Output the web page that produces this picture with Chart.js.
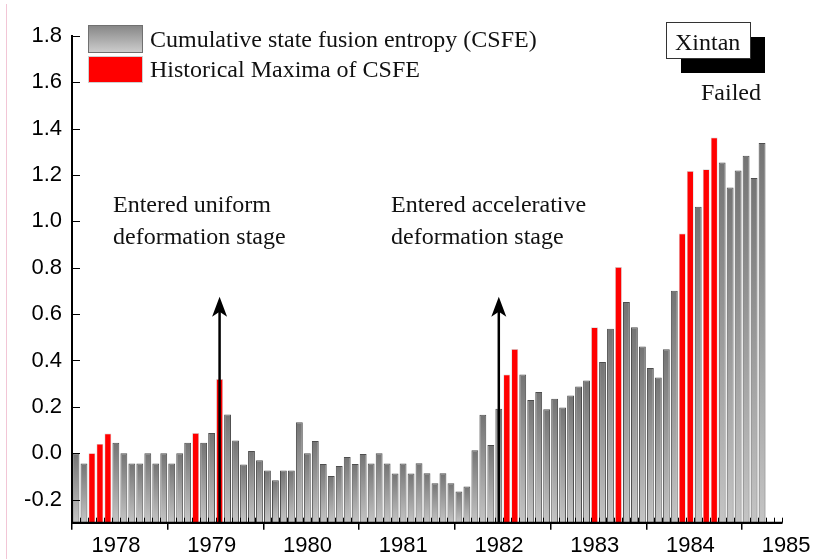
<!DOCTYPE html>
<html>
<head>
<meta charset="utf-8">
<title>CSFE - Xintan</title>
<script src="https://cdn.jsdelivr.net/npm/chart.js@4.4.0/dist/chart.umd.min.js"></script>
<style>
  body { margin: 0; background: #fff; }
  #wrap { position: relative; width: 813px; height: 559px; }
  #edge { position: absolute; left: 6px; top: 4px; bottom: 0; width: 1px; background: #f2c6d6; }
</style>
</head>
<body>
<div id="wrap">
  <canvas id="chart" width="813" height="559"></canvas>
  <div id="edge"></div>
</div>
<script>
// Monthly CSFE, Jan 1978 -> Mar 1985
const csfe = [
  0.0, -0.045, 0.0, 0.04, 0.085, 0.045, 0.0, -0.045, -0.045, 0.0, -0.045, 0.0,
  -0.045, 0.0, 0.045, 0.087, 0.045, 0.087, 0.32, 0.167, 0.055, -0.049, 0.009, -0.031,
  -0.075, -0.117, -0.075, -0.075, 0.133, 0.0, 0.053, -0.047, -0.099, -0.055, -0.016, -0.047,
  -0.004, -0.045, 0.0, -0.045, -0.088, -0.045, -0.088, -0.044, -0.087, -0.13, -0.087, -0.13,
  -0.165, -0.144, 0.013, 0.166, 0.035, 0.192, 0.339, 0.449, 0.339, 0.229, 0.264, 0.189,
  0.235, 0.197, 0.249, 0.288, 0.314, 0.543, 0.393, 0.537, 0.803, 0.652, 0.543, 0.46,
  0.367, 0.327, 0.448, 0.701, 0.948, 1.217, 1.063, 1.225, 1.362, 1.254, 1.146, 1.22,
  1.283, 1.187, 1.338
];
// months where CSFE reaches a new historical maximum
const maximaIdx = [2, 3, 4, 15, 18, 54, 55, 65, 68, 76, 77, 79, 80];
const yearLabels = ['1978', '1979', '1980', '1981', '1982', '1983', '1984', '1985'];
const yTicks = [-0.2, 0, 0.2, 0.4, 0.6, 0.8, 1.0, 1.2, 1.4, 1.6, 1.8];
const yMin = -0.3;
const yMax = 1.8;
const monthsOnAxis = 89;
// stage arrows (month index) and their notes
const arrowIdx = [18, 53];
const arrowTop = 0.675;
const stageNotes = [
  ['Entered uniform', 'deformation stage'],
  ['Entered accelerative', 'deformation stage']
];
const seriesNames = ['Cumulative state fusion entropy (CSFE)', 'Historical Maxima of CSFE'];

const serif = '24px "Liberation Serif", "Times New Roman", serif';
const monthCenters = csfe.map((_, i) => i + 0.5);
const grayData = csfe.map((v, i) => maximaIdx.includes(i) ? null : v);
const redData = csfe.map((v, i) => maximaIdx.includes(i) ? v : null);

// gradient per bar: dark at the top, light at the bottom
function barGradient(c) {
  const chart = c.chart;
  const area = chart.chartArea;
  if (!area || !c.parsed || c.parsed.y == null) return '#999';
  const top = chart.scales.y.getPixelForValue(c.parsed.y);
  const g = chart.ctx.createLinearGradient(0, top, 0, area.bottom);
  g.addColorStop(0, '#747474');
  g.addColorStop(1, '#c4c4c4');
  return g;
}

const decorations = {
  id: 'decorations',
  afterDatasetsDraw(chart) {
    const { ctx, chartArea: a, scales: { x, y } } = chart;
    const line = (x1, y1, x2, y2) => { ctx.beginPath(); ctx.moveTo(x1, y1); ctx.lineTo(x2, y2); ctx.stroke(); };
    ctx.save();
    ctx.strokeStyle = '#000';
    ctx.fillStyle = '#000';

    // minor month ticks (inside)
    ctx.lineWidth = 1;
    for (let m = 1; m <= monthsOnAxis; m++) {
      if (m % 12 === 0) continue;
      const px = Math.round(x.getPixelForValue(m)) + 0.5;
      line(px, a.bottom, px, a.bottom - 5);
    }
    // y ticks (inside)
    yTicks.forEach(v => {
      const py = Math.round(y.getPixelForValue(v)) + 0.5;
      line(a.left, py, a.left + 8, py);
    });
    // axis lines
    ctx.lineWidth = 2;
    line(a.left, a.top, a.left, a.bottom + 1);
    line(a.left - 1, a.bottom, a.right, a.bottom);

    // arrows
    ctx.lineWidth = 2.5;
    arrowIdx.forEach(i => {
      const px = x.getPixelForValue(i + 0.5);
      const top = y.getPixelForValue(arrowTop);
      line(px, a.bottom, px, top + 12);
      ctx.beginPath();
      ctx.moveTo(px, top);
      ctx.lineTo(px - 7.5, top + 20);
      ctx.lineTo(px, top + 15);
      ctx.lineTo(px + 7.5, top + 20);
      ctx.closePath();
      ctx.fill();
    });

    // notes
    ctx.font = serif;
    ctx.fillStyle = '#111';
    ctx.textBaseline = 'alphabetic';
    ctx.textAlign = 'left';
    const noteX = [113, 391];
    stageNotes.forEach((lines, k) => {
      lines.forEach((t, j) => ctx.fillText(t, noteX[k], 212 + j * 32));
    });

    // legend
    const g = ctx.createLinearGradient(0, 25, 0, 52);
    g.addColorStop(0, '#858585');
    g.addColorStop(1, '#cccccc');
    ctx.fillStyle = g;
    ctx.fillRect(88, 25, 54, 27);
    ctx.strokeStyle = '#707070';
    ctx.lineWidth = 1;
    ctx.strokeRect(88.5, 25.5, 54, 27);
    ctx.fillStyle = '#ff0000';
    ctx.fillRect(88, 56, 54, 26);
    ctx.strokeStyle = '#d0d0d0';
    ctx.strokeRect(88.5, 56.5, 54, 26);
    ctx.fillStyle = '#111';
    ctx.fillText(seriesNames[0], 150, 47);
    ctx.fillText(seriesNames[1], 150, 77);

    // Xintan label
    ctx.fillStyle = '#000';
    ctx.fillRect(681, 37, 84, 36);
    ctx.fillStyle = '#fff';
    ctx.fillRect(666, 22, 84, 36);
    ctx.strokeStyle = '#333';
    ctx.strokeRect(666.5, 22.5, 84, 36);
    ctx.fillStyle = '#111';
    ctx.fillText('Xintan', 675, 50);
    ctx.fillText('Failed', 701, 100);
    ctx.restore();
  }
};

const ctx = document.getElementById('chart').getContext('2d');
new Chart(ctx, {
  type: 'bar',
  data: {
    labels: monthCenters,
    datasets: [
      {
        label: seriesNames[0],
        data: grayData,
        backgroundColor: barGradient,
        borderColor: '#4e4e4e',
        borderWidth: 1,
        base: yMin,
        grouped: false,
        categoryPercentage: 1,
        barPercentage: 0.86
      },
      {
        label: seriesNames[1],
        data: redData,
        backgroundColor: '#ff0000',
        borderColor: 'rgba(190,190,190,0.7)',
        borderWidth: 0.7,
        base: yMin,
        grouped: false,
        categoryPercentage: 1,
        barPercentage: 0.86
      }
    ]
  },
  options: {
    responsive: false,
    animation: false,
    devicePixelRatio: 1,
    layout: { padding: { top: 36, right: 31, left: 0, bottom: 0 } },
    plugins: { legend: { display: false }, tooltip: { enabled: false } },
    scales: {
      x: {
        type: 'linear',
        offset: false,
        min: 0,
        max: monthsOnAxis,
        afterBuildTicks: s => { s.ticks = yearLabels.map((_, k) => ({ value: k * 12 })); },
        afterFit: s => { s.height = 36.3; },
        grid: { display: true, offset: false, drawOnChartArea: false, drawTicks: true, tickLength: 7, color: '#000', lineWidth: 1.5 },
        border: { display: true, color: '#000', width: 2 },
        ticks: {
          autoSkip: false,
          maxRotation: 0,
          padding: 3,
          labelOffset: 44,
          color: '#000',
          font: { family: '"Liberation Sans", Arial, sans-serif', size: 22 },
          callback: (v, k) => yearLabels[k]
        }
      },
      y: {
        min: yMin,
        max: yMax,
        afterBuildTicks: s => { s.ticks = yTicks.map(v => ({ value: v })); },
        afterFit: s => { s.width = 72; },
        grid: { display: false, drawTicks: false },
        border: { display: true, color: '#000', width: 2 },
        ticks: {
          padding: 10,
          color: '#000',
          font: { family: '"Liberation Sans", Arial, sans-serif', size: 22 },
          callback: v => v.toFixed(1)
        }
      }
    }
  },
  plugins: [decorations]
});
</script>
</body>
</html>
